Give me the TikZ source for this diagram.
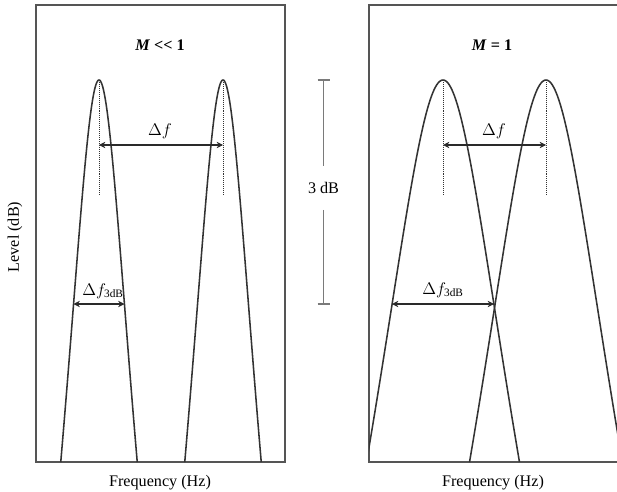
\documentclass[tikz,border=0pt]{standalone}
\usepackage{fontspec}
\setmainfont{Liberation Serif}
\usetikzlibrary{arrows.meta}
\definecolor{CurveGray}{HTML}{333333}
\definecolor{FrameGray}{HTML}{555555}
\definecolor{BarGray}{HTML}{7A7A7A}
\definecolor{ArrowGray}{HTML}{2A2A2A}

\begin{document}
\begin{tikzpicture}[x=0.025cm,y=-0.025cm,
    panel/.style={FrameGray,line width=0.8pt},
    peak/.style={CurveGray,line width=1.1pt,smooth,samples=121},
    guide/.style={CurveGray,densely dotted,line width=0.4pt},
    dfarrow/.style={ArrowGray,line width=1.5pt,{Stealth[length=4.5pt,width=4.5pt]}-{Stealth[length=4.5pt,width=4.5pt]}},
    bwarrow/.style={ArrowGray,line width=0.9pt,{Stealth[length=4.5pt,width=4.5pt]}-{Stealth[length=4.5pt,width=4.5pt]}},
    lbl/.style={font=\fontsize{11.5}{13}\selectfont,text=black,inner sep=1pt},
    bar/.style={BarGray,line width=1.1pt}]
    \useasboundingbox (0,0) rectangle (617,492);
    \clip (0,0) rectangle (617,492);

    % Panels
    \draw[panel] (36,5)  rectangle (285,462);
    \draw[panel] (369,5) rectangle (640,462);

    % Peak apexes
    \coordinate (lA) at (99,80);
    \coordinate (lB) at (223,80);
    \coordinate (rA) at (443,80);
    \coordinate (rB) at (546,80);

    % Left panel: narrow peaks
    \draw[peak] plot[domain=-1.5:1.5] ({99+25.5*\x},{80+746.67*log10(1+\x*\x)});
    \draw[peak] plot[domain=-1.5:1.5] ({223+25.5*\x},{80+746.67*log10(1+\x*\x)});
    % Right panel: wide peaks, cut at the frame
    \begin{scope}
      \clip (369,5) rectangle (640,462);
      \draw[peak] plot[domain=-1.5:1.5] ({443+51*\x},{80+746.67*log10(1+\x*\x)});
      \draw[peak] plot[domain=-1.5:1.5] ({546+51*\x},{80+746.67*log10(1+\x*\x)});
    \end{scope}

    % Dotted centre lines
    \foreach \pk in {lA,lB,rA,rB}
      \draw[guide] (\pk) -- ++(0,116);

    % Delta f arrows
    \coordinate (lAm) at (99,145);
    \coordinate (lBm) at (223,145);
    \coordinate (rAm) at (443,145);
    \coordinate (rBm) at (546,145);
    \draw[dfarrow] (lAm) -- (lBm);
    \draw[dfarrow] (rAm) -- (rBm);
    \node[lbl] (dfl) at (160,131) {$\Delta f$};
    \node[lbl] (dfr) at (494,131) {$\Delta f$};

    % 3 dB bandwidth arrows
    \coordinate (lW1) at (73.5,304);
    \coordinate (lW2) at (124.5,304);
    \coordinate (rW1) at (392,304);
    \coordinate (rW2) at (494,304);
    \draw[bwarrow] (lW1) -- (lW2);
    \draw[bwarrow] (rW1) -- (rW2);
    \node[lbl] (bwl) at (103,291) {$\Delta f_{\mathrm{3dB}}$};
    \node[lbl] (bwr) at (443,290) {$\Delta f_{\mathrm{3dB}}$};

    % 3 dB scale bar
    \coordinate (bartop) at (323.5,80);
    \coordinate (barbot) at (323.5,304);
    \node[lbl,minimum height=1.08cm] (tdb) at (323.5,188) {3 dB};
    \draw[bar] (bartop) -- (tdb.north);
    \draw[bar] (tdb.south) -- (barbot);
    \draw[bar] (bartop) ++(-6,0) -- ++(12,0);
    \draw[bar] (barbot) ++(-6,0) -- ++(12,0);

    % Titles and axis labels
    \node[lbl] (ttl) at (160,45) {\textbf{\textit{M} <{}< 1}};
    \node[lbl] (ttr) at (492,45) {\textbf{\textit{M} = 1}};
    \node[lbl,rotate=90] (ylab) at (15,237) {Level (dB)};
    \node[lbl] (xlabl) at (160,483) {Frequency (Hz)};
    \node[lbl] (xlabr) at (493,483) {Frequency (Hz)};
  \end{tikzpicture}
\end{document}
